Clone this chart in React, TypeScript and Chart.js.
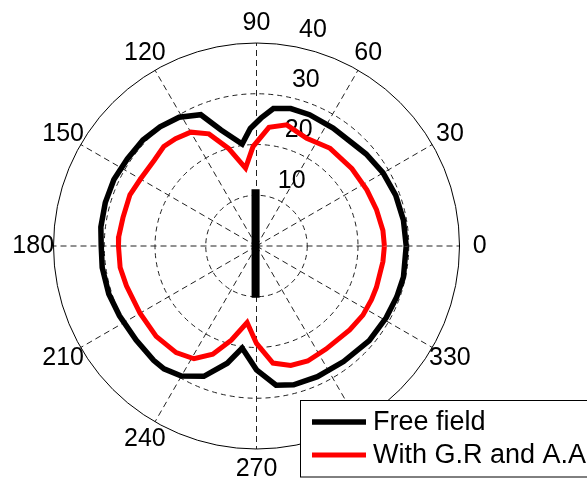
import { useEffect, useRef } from "react";
import { Chart, registerables } from "chart.js";

Chart.register(...registerables);

// Angular positions (degrees) and radii
const freeFieldAngles = [0, 10, 20, 30, 40, 45, 57, 68, 76, 83, 88, 93, 98, 107, 113, 121, 129, 137, 146, 155, 164, 173, 180, 188, 198, 207, 218, 228, 233, 240, 248, 256, 262, 270, 278, 285, 295, 307, 320, 331, 340, 348, 360];
const freeFieldRadii = [29.5, 29.4, 29.2, 28.8, 28.2, 27.8, 27.7, 27.9, 27.9, 27.3, 25.2, 23.2, 20.3, 23.9, 28.1, 29.6, 30.2, 30.6, 30.7, 31.0, 31.0, 30.9, 30.6, 30.7, 30.6, 30.3, 30.1, 30.3, 30.3, 29.6, 27.7, 23.8, 20.3, 24.4, 27.7, 28.3, 28.4, 28.5, 29.0, 29.2, 29.4, 29.6, 29.5];

const withAngles = [0, 7, 17, 27, 39, 53, 65, 76, 84, 92, 98, 106, 113, 120, 127, 133, 140, 150, 158, 168, 176, 180, 189, 197, 210, 222, 233, 241, 248, 255, 263, 270, 278, 286, 294, 304, 318, 327, 335, 341, 353, 360];
const withRadii = [25.2, 25.1, 24.7, 24.4, 24.2, 24.1, 23.4, 24.6, 23.5, 19.6, 15.5, 20.0, 24.0, 25.9, 26.5, 26.8, 26.3, 26.4, 26.9, 26.9, 27.2, 27.2, 27.2, 26.8, 26.5, 26.6, 26.3, 25.4, 23.0, 19.2, 15.2, 19.2, 23.3, 24.5, 24.8, 24.5, 24.7, 25.0, 25.0, 25.0, 25.1, 25.2];

const barAngles = [91, 269];
const barRadii = [11.2, 10.2];

const angleTicks = [0, 30, 60, 90, 120, 150, 180, 210, 240, 270, 300, 330];
const angleTickLabels = ["0", "30", "60", "90", "120", "150", "180", "210", "240", "270", "300", "330"];
const radialTicks = [10, 20, 30, 40];
const seriesLabels = ["Free field", "With G.R and A.A"];
const seriesColors = ["#000000", "#ff0000"];

const FONT = '25px Arial, "Liberation Sans", Helvetica, sans-serif';
const LEGEND_FONT = '27px Arial, "Liberation Sans", Helvetica, sans-serif';

function toXY(angles: number[], radii: number[]) {
  return angles.map((a, i) => ({
    x: radii[i] * Math.cos((a * Math.PI) / 180),
    y: radii[i] * Math.sin((a * Math.PI) / 180),
  }));
}

const polarGrid = {
  id: "polarGrid",
  beforeDatasetsDraw(chart: any) {
    const ctx = chart.ctx;
    const xs = chart.scales.x;
    const ys = chart.scales.y;
    const cx = xs.getPixelForValue(0);
    const cy = ys.getPixelForValue(0);
    const unit = xs.getPixelForValue(1) - cx;
    const rmaxVal = radialTicks[radialTicks.length - 1];
    const R = rmaxVal * unit;
    ctx.save();
    ctx.fillStyle = "#fff";
    ctx.beginPath();
    ctx.arc(cx, cy, R, 0, Math.PI * 2);
    ctx.fill();
    ctx.lineWidth = 1;
    ctx.strokeStyle = "#222";
    ctx.setLineDash([6, 4]);
    // spokes
    for (const a of angleTicks) {
      const t = (a * Math.PI) / 180;
      ctx.beginPath();
      ctx.moveTo(cx, cy);
      ctx.lineTo(cx + R * Math.cos(t), cy - R * Math.sin(t));
      ctx.stroke();
    }
    // rings
    for (const r of radialTicks) {
      ctx.beginPath();
      if (r === rmaxVal) {
        ctx.setLineDash([]);
        ctx.strokeStyle = "#000";
      } else {
        ctx.setLineDash([5, 4]);
        ctx.strokeStyle = "#222";
      }
      ctx.arc(cx, cy, r * unit, 0, Math.PI * 2);
      ctx.stroke();
    }
    ctx.setLineDash([]);
    // angle labels
    ctx.fillStyle = "#000";
    ctx.font = FONT;
    ctx.textAlign = "center";
    ctx.textBaseline = "middle";
    angleTicks.forEach((a, i) => {
      const t = (a * Math.PI) / 180;
      ctx.fillText(angleTickLabels[i], cx + 1.1 * R * Math.cos(t), cy - 1.1 * R * Math.sin(t));
    });
    // radial labels at 82 degrees
    ctx.textAlign = "left";
    ctx.textBaseline = "bottom";
    const t82 = (82 * Math.PI) / 180;
    for (const r of radialTicks) {
      const rr = (r + 0.5) * unit;
      ctx.fillText("  " + r, cx + rr * Math.cos(t82), cy - rr * Math.sin(t82));
    }
    ctx.restore();
  },
  afterDraw(chart: any) {
    const ctx = chart.ctx;
    ctx.save();
    const bx = 300.5, by = 400.5, bw = 320, bh = 76.5;
    ctx.fillStyle = "#fff";
    ctx.fillRect(bx, by, bw, bh);
    ctx.strokeStyle = "#000";
    ctx.lineWidth = 1;
    ctx.strokeRect(bx, by, bw, bh);
    ctx.font = LEGEND_FONT;
    ctx.textAlign = "left";
    ctx.textBaseline = "middle";
    const rows = [422, 455];
    [0, 1].forEach((i) => {
      const ds = chart.data.datasets[i];
      ctx.strokeStyle = ds.borderColor;
      ctx.lineWidth = ds.borderWidth;
      ctx.beginPath();
      ctx.moveTo(312, rows[i]);
      ctx.lineTo(366, rows[i]);
      ctx.stroke();
      ctx.fillStyle = "#000";
      ctx.fillText(ds.label, 373, rows[i] + 1);
    });
    ctx.restore();
  },
};

export default function App() {
  const ref = useRef<HTMLCanvasElement>(null);
  useEffect(() => {
    document.body.style.margin = "0";
    const canvas = ref.current!;
    const unit = 203 / 40;
    const cxPx = 256.5;
    const cyPx = 246;
    const chart = new Chart(canvas, {
      type: "scatter",
      data: {
        datasets: [
          {
            label: seriesLabels[0],
            data: toXY(freeFieldAngles, freeFieldRadii),
            showLine: true,
            borderColor: seriesColors[0],
            backgroundColor: seriesColors[0],
            borderWidth: 5.5,
            pointRadius: 0,
            tension: 0,
            borderJoinStyle: "miter",
          },
          {
            label: seriesLabels[1],
            data: toXY(withAngles, withRadii),
            showLine: true,
            borderColor: seriesColors[1],
            backgroundColor: seriesColors[1],
            borderWidth: 5,
            pointRadius: 0,
            tension: 0,
            borderJoinStyle: "miter",
          },
          {
            label: "",
            data: toXY(barAngles, barRadii),
            showLine: true,
            borderColor: seriesColors[0],
            borderWidth: 8,
            pointRadius: 0,
            tension: 0,
          },
        ],
      },
      options: {
        animation: false,
        responsive: false,
        events: [],
        layout: { padding: 0 },
        plugins: { legend: { display: false }, tooltip: { enabled: false } },
        scales: {
          x: { type: "linear", display: false, min: -cxPx / unit, max: (587 - cxPx) / unit },
          y: { type: "linear", display: false, min: -(480 - cyPx) / unit, max: cyPx / unit },
        },
      },
      plugins: [polarGrid],
    } as any);
    return () => chart.destroy();
  }, []);
  return (
    <div style={{ width: 587, height: 480, background: "#fff", overflow: "hidden" }}>
      <canvas ref={ref} width={587} height={480} style={{ display: "block" }} />
    </div>
  );
}
